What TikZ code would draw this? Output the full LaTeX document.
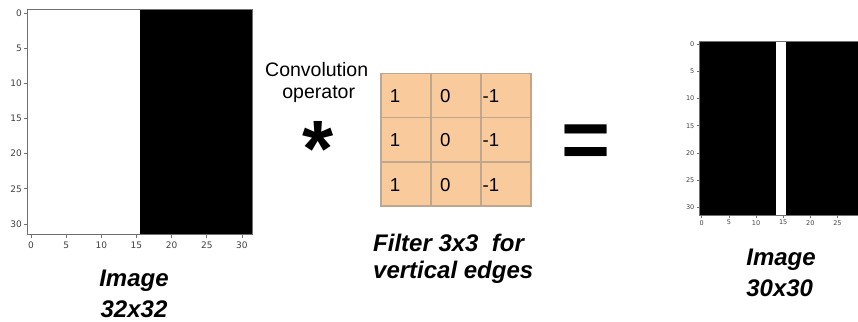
\documentclass[tikz,border=0pt]{standalone}
\usepackage{fontspec}
\setmainfont{Liberation Sans}
\newfontfamily\tickfont{DejaVu Sans}
\definecolor{cellfill}{HTML}{F9CB9C}
\definecolor{cellline}{HTML}{BFA68E}
\definecolor{spine}{HTML}{707070}
\definecolor{ticktext}{HTML}{404040}
\begin{document}
\begin{tikzpicture}[x=1pt,y=-1pt,
  spineline/.style={draw=spine,line width=0.8pt},
  ticklab/.style={inner sep=0pt,text=ticktext,font=\tickfont\fontsize{9}{9}\selectfont},
  smallticklab/.style={inner sep=0pt,text=ticktext,font=\tickfont\fontsize{6.5}{6.5}\selectfont},
  cell/.style={draw=cellline,fill=cellfill,line width=1.5pt,minimum width=50pt,minimum height=44.2pt,inner sep=0pt,anchor=north west},
  num/.style={inner sep=0pt,anchor=base west,font=\fontsize{18.7}{18.7}\selectfont},
  bigitalic/.style={inner sep=0pt,anchor=base,font=\fontsize{24}{24}\selectfont\bfseries\itshape},
  plain/.style={inner sep=0pt,anchor=base,font=\fontsize{19.5}{19.5}\selectfont}]
\useasboundingbox (0,0) rectangle (858,321);

% ---------- left plot (32x32 image) ----------
\fill[white] (27.5,9.5) rectangle (140,234.5);
\fill[black] (140,9.5) rectangle (252.5,234.5);
\draw[spineline] (27.5,9.5) rectangle (252.5,234.5);
\foreach \v in {0,5,...,30}{
  \draw[spineline] ({27.5+(\v+0.5)*7.03},234.5) -- ++(0,3.5);
  \node[ticklab,anchor=north] (lx\v) at ({27.5+(\v+0.5)*7.03},241.5) {\v};
  \draw[spineline] (27.5,{9.5+(\v+0.5)*7.03}) -- ++(-3.5,0);
  \node[ticklab,anchor=east] (ly\v) at (22,{9.5+(\v+0.5)*7.03}) {\v};
}
\node[bigitalic] (img1a) at (134,286) {Image};
\node[bigitalic] (img1b) at (134,317) {32x32};

% ---------- convolution operator ----------
\node[plain] (conv1) at (316.7,76.7) {Convolution};
\node[plain] (conv2) at (318.7,98.3) {operator};
\node[inner sep=0pt,anchor=base,font=\fontsize{80}{80}\selectfont\bfseries] (star) at (318,176) {*};

% ---------- filter ----------
\foreach \r/\ty in {1/72.7,2/116.9,3/161.1}{
  \foreach \c/\tx in {1/380,2/430,3/480}{
    \node[cell] (c\r\c) at (\tx,\ty) {};
  }
}
\foreach \r/\by in {1/102.7,2/146.8,3/191}{
  \node[num] (n\r1) at (389.7,\by) {1};
  \node[num] (n\r2) at (440,\by) {0};
  \node[num] (n\r3) at (482.5,\by) {-1};
}
\node[bigitalic,anchor=base west] (f1) at (373,251.7) {Filter 3x3\ \ for};
\node[bigitalic,anchor=base west] (f2) at (373,278) {vertical edges};

% ---------- equals ----------
\node[inner sep=0pt,anchor=base,font=\fontsize{84}{84}\selectfont\bfseries] (eq) at (586.3,168.7) {=};

% ---------- right plot (30x30 image) ----------
\fill[black] (699,41.6) rectangle (775.5,215.4);
\fill[white] (775.5,41.6) rectangle (786,215.4);
\fill[black] (786,41.6) rectangle (858,215.4);
\draw[draw=spine,line width=0.6pt] (858,41.6) -- (699,41.6) -- (699,215.4) -- (858,215.4);
\foreach \v in {0,5,...,30}{
  \draw[draw=spine,line width=0.6pt] (699,{41.6+(\v+0.5)*5.43}) -- ++(-2.5,0);
  \node[smallticklab,anchor=east] (ry\v) at (694.5,{41.6+(\v+0.5)*5.43}) {\v};
}
\foreach \v in {0,5,...,25}{
  \draw[draw=spine,line width=0.6pt] ({699+(\v+0.5)*5.43},215.4) -- ++(0,2.5);
  \node[smallticklab,anchor=north] (rx\v) at ({699+(\v+0.5)*5.43},220) {\v};
}
\node[bigitalic] (img2a) at (781,265) {Image};
\node[bigitalic] (img2b) at (779.7,296.5) {30x30};
\end{tikzpicture}
\end{document}
